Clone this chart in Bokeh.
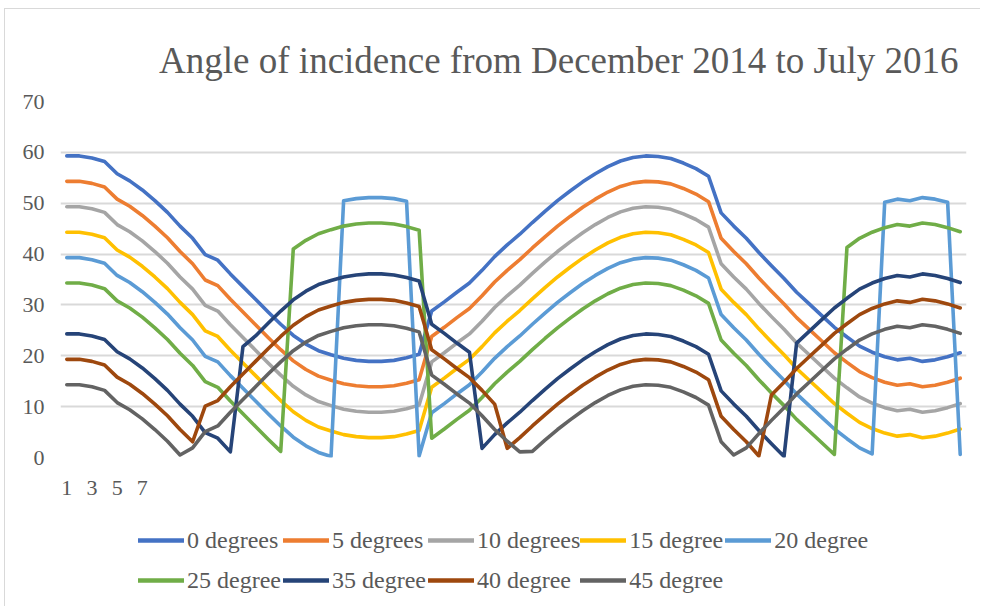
from bokeh.plotting import figure
from bokeh.models import Range1d, FixedTicker, Legend, LegendItem
from bokeh.layouts import column
from bokeh.embed import file_html
from bokeh.resources import INLINE

x = list(range(1, 73))
x_tick_labels = [1, 3, 5, 7]
y_ticks = [0, 10, 20, 30, 40, 50, 60, 70]

deg0 = [59.3, 59.3, 58.9, 58.2, 55.8, 54.4, 52.6, 50.5, 48.2, 45.5, 43.1, 39.9, 38.8, 36.1, 33.6, 31.1, 28.6, 26.2, 24.0, 22.3,
        21.0, 20.2, 19.5, 19.1, 18.9, 18.9, 19.1, 19.6, 20.3, 28.8, 30.6, 32.5, 34.3, 36.8, 39.5, 41.8, 43.9, 46.2, 48.4, 50.5,
        52.4, 54.2, 55.8, 57.2, 58.3, 59.0, 59.3, 59.2, 58.8, 57.9, 56.8, 55.3, 48.1, 45.5, 43.1, 40.3, 37.7, 35.2, 32.5, 30.2,
        27.9, 25.6, 23.7, 21.9, 20.7, 19.8, 19.2, 19.5, 18.9, 19.2, 19.8, 20.6]
deg5 = [54.3, 54.3, 53.9, 53.2, 50.8, 49.4, 47.6, 45.5, 43.2, 40.5, 38.1, 34.9, 33.8, 31.1, 28.6, 26.1, 23.6, 21.2, 19.0, 17.3,
        16.0, 15.2, 14.5, 14.1, 13.9, 13.9, 14.1, 14.6, 15.3, 23.8, 25.6, 27.5, 29.3, 31.8, 34.5, 36.8, 38.9, 41.2, 43.4, 45.5,
        47.4, 49.2, 50.8, 52.2, 53.3, 54.0, 54.3, 54.2, 53.8, 52.9, 51.8, 50.3, 43.1, 40.5, 38.1, 35.3, 32.7, 30.2, 27.5, 25.2,
        22.9, 20.6, 18.7, 16.9, 15.7, 14.8, 14.2, 14.5, 13.9, 14.2, 14.8, 15.6]
deg10 = [49.3, 49.3, 48.9, 48.2, 45.8, 44.4, 42.6, 40.5, 38.2, 35.5, 33.1, 29.9, 28.8, 26.1, 23.6, 21.1, 18.6, 16.2, 14.0, 12.3,
         11.0, 10.2, 9.5, 9.1, 8.9, 8.9, 9.1, 9.6, 10.3, 18.8, 20.6, 22.5, 24.3, 26.8, 29.5, 31.8, 33.9, 36.2, 38.4, 40.5,
         42.4, 44.2, 45.8, 47.2, 48.3, 49.0, 49.3, 49.2, 48.8, 47.9, 46.8, 45.3, 38.1, 35.5, 33.1, 30.3, 27.7, 25.2, 22.5, 20.2,
         17.9, 15.6, 13.7, 11.9, 10.7, 9.8, 9.2, 9.5, 8.9, 9.2, 9.8, 10.6]
deg15 = [44.3, 44.3, 43.9, 43.2, 40.8, 39.4, 37.6, 35.5, 33.2, 30.5, 28.1, 24.9, 23.8, 21.1, 18.6, 16.1, 13.6, 11.2, 9.0, 7.3,
         6.0, 5.2, 4.5, 4.1, 3.9, 3.9, 4.1, 4.6, 5.3, 13.8, 15.6, 17.5, 19.3, 21.8, 24.5, 26.8, 28.9, 31.2, 33.4, 35.5,
         37.4, 39.2, 40.8, 42.2, 43.3, 44.0, 44.3, 44.2, 43.8, 42.9, 41.8, 40.3, 33.1, 30.5, 28.1, 25.3, 22.7, 20.2, 17.5, 15.2,
         12.9, 10.6, 8.7, 6.9, 5.7, 4.8, 4.2, 4.5, 3.9, 4.2, 4.8, 5.6]
deg20 = [39.3, 39.3, 38.9, 38.2, 35.8, 34.4, 32.6, 30.5, 28.2, 25.5, 23.1, 19.9, 18.8, 16.1, 13.6, 11.1, 8.6, 6.2, 4.0, 2.3,
         1.0, 0.2, 50.5, 50.9, 51.1, 51.1, 50.9, 50.4, 0.3, 8.8, 10.6, 12.5, 14.3, 16.8, 19.5, 21.8, 23.9, 26.2, 28.4, 30.5,
         32.4, 34.2, 35.8, 37.2, 38.3, 39.0, 39.3, 39.2, 38.8, 37.9, 36.8, 35.3, 28.1, 25.5, 23.1, 20.3, 17.7, 15.2, 12.5, 10.2,
         7.9, 5.6, 3.7, 1.9, 0.7, 50.2, 50.8, 50.5, 51.1, 50.8, 50.2, 0.6]
deg25 = [34.3, 34.3, 33.9, 33.2, 30.8, 29.4, 27.6, 25.5, 23.2, 20.5, 18.1, 14.9, 13.8, 11.1, 8.6, 6.1, 3.6, 1.2, 41.0, 42.7,
         44.0, 44.8, 45.5, 45.9, 46.1, 46.1, 45.9, 45.4, 44.7, 3.8, 5.6, 7.5, 9.3, 11.8, 14.5, 16.8, 18.9, 21.2, 23.4, 25.5,
         27.4, 29.2, 30.8, 32.2, 33.3, 34.0, 34.3, 34.2, 33.8, 32.9, 31.8, 30.3, 23.1, 20.5, 18.1, 15.3, 12.7, 10.2, 7.5, 5.2,
         2.9, 0.6, 41.3, 43.1, 44.3, 45.2, 45.8, 45.5, 46.1, 45.8, 45.2, 44.4]
deg35 = [24.3, 24.3, 23.9, 23.2, 20.8, 19.4, 17.6, 15.5, 13.2, 10.5, 8.1, 4.9, 3.8, 1.1, 21.8, 23.9, 26.4, 28.8, 31.0, 32.7,
         34.0, 34.8, 35.5, 35.9, 36.1, 36.1, 35.9, 35.4, 34.7, 26.2, 24.4, 22.5, 20.7, 1.8, 4.5, 6.8, 8.9, 11.2, 13.4, 15.5,
         17.4, 19.2, 20.8, 22.2, 23.3, 24.0, 24.3, 24.2, 23.8, 22.9, 21.8, 20.3, 13.1, 10.5, 8.1, 5.3, 2.7, 0.2, 22.5, 24.8,
         27.1, 29.4, 31.3, 33.1, 34.3, 35.2, 35.8, 35.5, 36.1, 35.8, 35.2, 34.4]
deg40 = [19.3, 19.3, 18.9, 18.2, 15.8, 14.4, 12.6, 10.5, 8.2, 5.5, 3.1, 10.1, 11.2, 13.9, 16.4, 18.9, 21.4, 23.8, 26.0, 27.7,
         29.0, 29.8, 30.5, 30.9, 31.1, 31.1, 30.9, 30.4, 29.7, 21.2, 19.4, 17.5, 15.7, 13.2, 10.5, 1.8, 3.9, 6.2, 8.4, 10.5,
         12.4, 14.2, 15.8, 17.2, 18.3, 19.0, 19.3, 19.2, 18.8, 17.9, 16.8, 15.3, 8.1, 5.5, 3.1, 0.3, 12.3, 14.8, 17.5, 19.8,
         22.1, 24.4, 26.3, 28.1, 29.3, 30.2, 30.8, 30.5, 31.1, 30.8, 30.2, 29.4]
deg45 = [14.3, 14.3, 13.9, 13.2, 10.8, 9.4, 7.6, 5.5, 3.2, 0.5, 1.9, 5.1, 6.2, 8.9, 11.4, 13.9, 16.4, 18.8, 21.0, 22.7,
         24.0, 24.8, 25.5, 25.9, 26.1, 26.1, 25.9, 25.4, 24.7, 16.2, 14.4, 12.5, 10.7, 8.2, 5.5, 3.2, 1.1, 1.2, 3.4, 5.5,
         7.4, 9.2, 10.8, 12.2, 13.3, 14.0, 14.3, 14.2, 13.8, 12.9, 11.8, 10.3, 3.1, 0.5, 1.9, 4.7, 7.3, 9.8, 12.5, 14.8,
         17.1, 19.4, 21.3, 23.1, 24.3, 25.2, 25.8, 25.5, 26.1, 25.8, 25.2, 24.4]

names = ["0 degrees", "5 degrees", "10 degrees", "15 degree", "20 degree",
         "25 degree", "35 degree", "40 degree", "45 degree"]
values = [deg0, deg5, deg10, deg15, deg20, deg25, deg35, deg40, deg45]
colors = ["#4472C4", "#ED7D31", "#A5A5A5", "#FFC000", "#5B9BD5",
          "#70AD47", "#264478", "#9E480E", "#636363"]

FONT = "Liberation Serif"
TXT = "#595959"
LW = 3.6

# main chart (page offset 5 px left, 9 px top because of the chart-area border)
p = figure(width=975, height=506, output_backend="svg", toolbar_location=None,
           x_range=Range1d(0.5, 72.5), y_range=Range1d(0, 70),
           min_border_left=55, min_border_right=14, min_border_top=92, min_border_bottom=58,
           title="Angle of incidence from December 2014 to July 2016")
p.outline_line_color = None
p.title.align = "right"
p.title.offset = 8
p.title.standoff = 41
p.title.text_font = FONT
p.title.text_font_size = "37px"
p.title.text_font_style = "normal"
p.title.text_color = TXT

p.xgrid.grid_line_color = None
p.ygrid.ticker = FixedTicker(ticks=y_ticks)
p.ygrid.grid_line_color = "#D9D9D9"
p.ygrid.grid_line_width = 2

p.yaxis.ticker = FixedTicker(ticks=y_ticks)
p.xaxis.ticker = FixedTicker(ticks=x_tick_labels)
for ax in (p.xaxis, p.yaxis):
    ax.axis_line_color = None
    ax.major_tick_line_color = None
    ax.minor_tick_line_color = None
    ax.major_tick_out = 0
    ax.major_tick_in = 0
    ax.major_label_text_font = FONT
    ax.major_label_text_font_size = "22px"
    ax.major_label_text_color = TXT
p.yaxis.major_label_standoff = 16
p.xaxis.major_label_standoff = 23

for vals, col in zip(values, colors):
    p.line(x, vals, line_color=col, line_width=LW, line_join="round", line_cap="round")

# legend strip: same series, drawn outside its visible range, only their legend entries show
q = figure(width=975, height=91, output_backend="svg", toolbar_location=None,
           x_range=Range1d(0.5, 72.5), y_range=Range1d(500, 501),
           min_border_left=0, min_border_right=0, min_border_top=0, min_border_bottom=0,
           x_axis_location=None, y_axis_location=None)
q.outline_line_color = None
q.xgrid.visible = False
q.ygrid.visible = False
renderers = {}
for name, vals, col in zip(names, values, colors):
    renderers[name] = q.line(x, vals, line_color=col, line_width=LW + 1, line_cap="round")

# column-major fill of a 2-row grid -> row 1: first five, row 2: last four
order = ["0 degrees", "25 degree", "5 degrees", "35 degree", "10 degrees",
         "40 degree", "15 degree", "45 degree", "20 degree"]
items = [LegendItem(label=n, renderers=[renderers[n]]) for n in order]
legend = Legend(items=items, ncols=5, location=(78, 6),
                glyph_width=46, glyph_height=40, label_height=40, label_width=96,
                label_standoff=3, spacing=0, padding=0, margin=0,
                border_line_color=None, background_fill_alpha=0,
                label_text_font=FONT, label_text_font_size="24px", label_text_color=TXT)
q.add_layout(legend)

page = column(p, q, spacing=0,
              styles={"margin-left": "4px", "margin-top": "8px",
                      "border-left": "1px solid #D9D9D9", "border-top": "1px solid #D9D9D9"})

open("out.html", "w").write(file_html(page, INLINE))
